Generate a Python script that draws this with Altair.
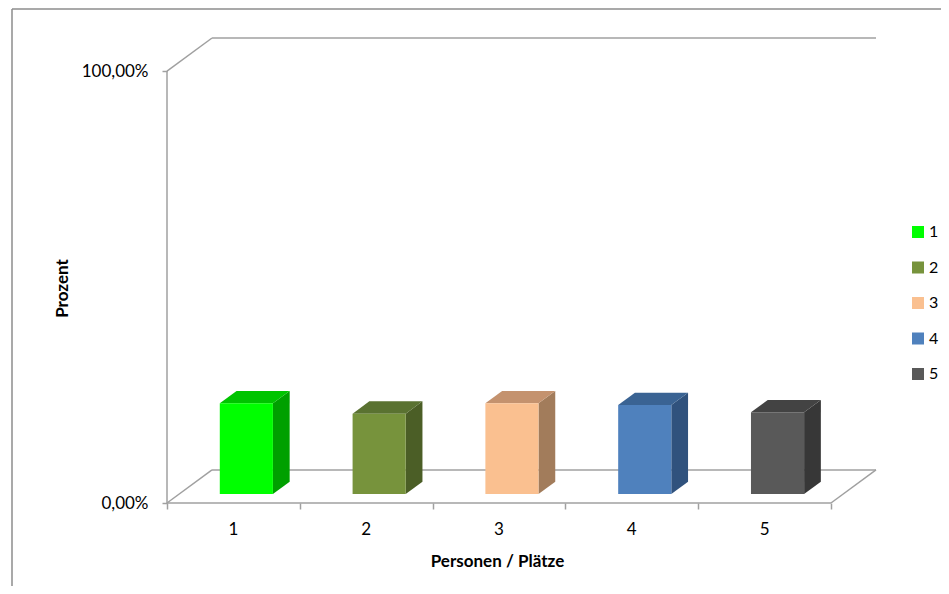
import json
import altair as alt
import pandas as pd

# ---- data ----
categories = ["1", "2", "3", "4", "5"]
values = [21.0, 18.6, 21.0, 20.6, 18.9]          # percent
front_colors = ["#00FF00", "#77933C", "#FAC090", "#4F81BD", "#595959"]
top_colors = ["#00C400", "#5A7231", "#C4926E", "#3A6393", "#434343"]
side_colors = ["#00A000", "#4B5E26", "#A27C5B", "#30527D", "#373737"]
y_tick_values = [0, 100]
y_tick_labels = ["0,00%", "100,00%"]
x_title = "Personen / Plätze"
y_title = "Prozent"

# ---- 3-D geometry (in data units) ----
N = len(categories)
DX = 0.339      # depth shift along x, in category units
DY = 7.66       # depth shift along y, in percent units
F1, F2 = 0.273, 0.645   # front / back depth of the bars (fraction of floor depth)
A, B = 0.305, 0.705     # bar extent inside its category

W, H = 709, 465
FONT = "Lato"
GRID = "#a0a0a0"

xscale = alt.Scale(domain=[0, N + DX], nice=False, zero=False)
yscale = alt.Scale(domain=[0, 100 + DY], nice=False, zero=False)

x_axis = alt.Axis(
    values=list(range(N + 1)),
    labels=False,
    tickSize=6, tickColor=GRID, tickWidth=1.5,
    domain=False, grid=False,
    title=x_title, titleFont=FONT, titleFontSize=17, titleFontWeight="bold",
    titleColor="#000000", titleX=330, titleY=58, titleAlign="center",
    titleBaseline="middle",
)
y_axis = alt.Axis(
    values=y_tick_values,
    labelExpr=f"{json.dumps(y_tick_labels)}[indexof({json.dumps(y_tick_values)}, datum.value)]",
    labelPadding=14, labelBaseline="middle",
    labelFont=FONT, labelFontSize=17, labelColor="#000000",
    tickSize=5, tickColor=GRID, tickWidth=1.5,
    domain=False, grid=False,
    title=y_title, titleFont=FONT, titleFontSize=17, titleFontWeight="bold",
    titleColor="#000000", titleX=-105, titleY=250, titleAlign="center",
    titleBaseline="middle",
)

# ---- wall / floor outline segments ----
segs = pd.DataFrame({
    "xa": [0, 0, DX, 0, 0, DX, N],
    "ya": [0, 100, 100 + DY, 0, 0, DY, 0],
    "xb": [0, DX, N + DX, N, DX, N + DX, N + DX],
    "yb": [100, 100 + DY, 100 + DY, 0, DY, DY, DY],
})

# ---- bar faces ----
front_rows, top_rows, side_rows, lab_rows = [], [], [], []
for i, (c, v) in enumerate(zip(categories, values)):
    fx0, fx1 = i + A + F1 * DX, i + B + F1 * DX
    bx0, bx1 = i + A + F2 * DX, i + B + F2 * DX
    fy, by = F1 * DY, F2 * DY
    front_rows.append({"Person": c, "x": fx0, "x2": fx1, "y": fy, "y2": fy + v})
    top_rows += [
        {"Person": c, "col": top_colors[i], "y": fy + v, "x": fx0, "x2": fx1},
        {"Person": c, "col": top_colors[i], "y": by + v, "x": bx0, "x2": bx1},
    ]
    side_rows += [
        {"Person": c, "col": side_colors[i], "x": fx1, "y": fy, "y2": fy + v},
        {"Person": c, "col": side_colors[i], "x": bx1, "y": by, "y2": by + v},
    ]
    lab_rows.append({"Person": c, "x": i + 0.5, "y": 0})
front = pd.DataFrame(front_rows)
top = pd.DataFrame(top_rows)
side = pd.DataFrame(side_rows)
labs = pd.DataFrame(lab_rows)

lines = alt.Chart(segs).mark_rule(color=GRID, strokeWidth=1.5).encode(
    x=alt.X("xa:Q", scale=xscale, axis=x_axis),
    y=alt.Y("ya:Q", scale=yscale, axis=y_axis),
    x2="xb:Q", y2="yb:Q",
)

side_layer = alt.Chart(side).mark_area(orient="vertical", opacity=1).encode(
    x=alt.X("x:Q", scale=xscale, axis=x_axis),
    y=alt.Y("y:Q", scale=yscale, axis=y_axis),
    y2="y2:Q",
    detail="Person:N",
    fill=alt.Fill("col:N", scale=None),
)

top_layer = alt.Chart(top).mark_area(orient="horizontal", opacity=1).encode(
    y=alt.Y("y:Q", scale=yscale, axis=y_axis),
    x=alt.X("x:Q", scale=xscale, axis=x_axis),
    x2="x2:Q",
    detail="Person:N",
    fill=alt.Fill("col:N", scale=None),
)

front_layer = alt.Chart(front).mark_rect(opacity=1).encode(
    x=alt.X("x:Q", scale=xscale, axis=x_axis),
    x2="x2:Q",
    y=alt.Y("y:Q", scale=yscale, axis=y_axis),
    y2="y2:Q",
    color=alt.Color(
        "Person:N",
        scale=alt.Scale(domain=categories, range=front_colors),
        legend=alt.Legend(
            orient="none", legendX=743, legendY=186, title=None,
            symbolType="square", symbolSize=144, symbolStrokeWidth=0,
            labelFont=FONT, labelFontSize=16, labelColor="#000000",
            labelOffset=3, rowPadding=19.5, padding=0,
        ),
    ),
)

xlabels = alt.Chart(labs).mark_text(
    font=FONT, fontSize=17, color="#000000", baseline="middle", align="center", dy=27
).encode(
    x=alt.X("x:Q", scale=xscale, axis=x_axis),
    y=alt.Y("y:Q", scale=yscale, axis=y_axis),
    text="Person:N",
)

frame = alt.Chart(pd.DataFrame({"k": [0]})).mark_rule(color="#8c8c8c", strokeWidth=1.5).encode(
    x=alt.value(-155), y=alt.value(-29), x2=alt.value(800), y2=alt.value(-29)
)
frame2 = alt.Chart(pd.DataFrame({"k": [0]})).mark_rule(color="#8c8c8c", strokeWidth=1.5).encode(
    x=alt.value(-155), y=alt.value(-29), x2=alt.value(-155), y2=alt.value(600)
)

chart = alt.layer(frame, frame2, lines, side_layer, top_layer, front_layer, xlabels).properties(
    width=W, height=H,
    autosize=alt.AutoSizeParams(type="none"),
    padding={"left": 159, "top": 30, "right": 65, "bottom": 83},
    background="white",
).configure_view(stroke=None)

chart.save("out.html", embed_options={"renderer": "svg", "actions": False})
